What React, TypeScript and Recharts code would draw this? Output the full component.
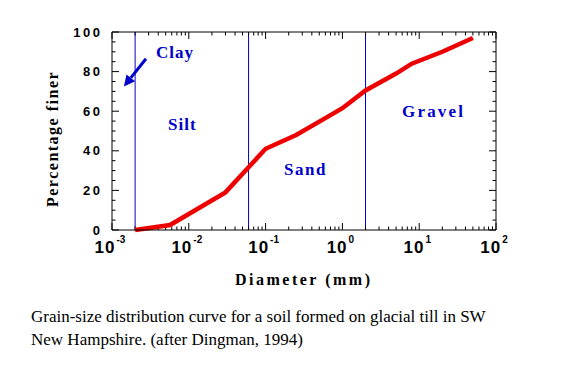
import { LineChart, Line, XAxis, YAxis, ReferenceLine, ReferenceDot } from "recharts";

// grain-size curve (diameter in mm, % finer)
const diameterMm = [0.002, 0.0057, 0.03, 0.1, 0.25, 0.6, 1, 2, 5, 8, 20, 50];
const percentFiner = [0, 2.5, 19, 41, 48, 56.5, 61.5, 70.5, 79, 84, 90, 97];

const xTicks = [0.001, 0.01, 0.1, 1, 10, 100];
const xTickExponents = ["-3", "-2", "-1", "0", "1", "2"];
const yTicks = [0, 20, 40, 60, 80, 100];

// clay/silt, silt/sand, sand/gravel boundaries (mm)
const classBoundaries = [0.002, 0.06, 2];
const classNames = ["Clay", "Silt", "Sand", "Gravel"];

const caption = [
  "Grain-size distribution curve for a soil formed on glacial till in SW",
  "New Hampshire. (after Dingman, 1994)",
];

// where the class names sit, in axis units
const classLabelAt = [
  { x: 0.00374, y: 86.9, spacing: 1 },
  { x: 0.00536, y: 50.5, spacing: 1 },
  { x: 0.174, y: 27.8, spacing: 1.5 },
  { x: 5.97, y: 57.1, spacing: 2.2 },
];
const arrowFrom = { x: 0.00277, y: 86.5 };
const arrowTo = { x: 0.00143, y: 72.5 };

const data = diameterMm.map((d, i) => ({ d, pct: percentFiner[i] }));

const BLUE = "#0000cc";
const SANS = "'Liberation Sans', Arial, sans-serif";
const SERIF = "'Liberation Serif', 'Times New Roman', serif";

// minor log ticks 2..9 per decade
const xMinor: number[] = [];
for (let e = -3; e < 2; e++) {
  for (let m = 2; m <= 9; m++) xMinor.push(m * Math.pow(10, e));
}
const yMinor: number[] = [];
for (let v = 5; v < 100; v += 5) if (v % 20 !== 0) yMinor.push(v);

const PX_PER_DECADE = 76.8;
const PX_PER_UNIT = 1.98;
const xFactor = (px: number) => Math.pow(10, px / PX_PER_DECADE);

function XTick(props: any) {
  const { x, y, index } = props;
  return (
    <text x={x - 2} y={y + 23} textAnchor="middle" fontFamily={SANS} fontWeight="bold" fontSize={17} fill="#000">
      <tspan letterSpacing={1}>10</tspan>
      <tspan dy={-10} dx={1} fontSize={10}>{xTickExponents[index]}</tspan>
    </text>
  );
}

function YTick(props: any) {
  const { x, y, payload } = props;
  return (
    <text x={x} y={y + 4.5} textAnchor="end" fontFamily={SANS} fontWeight="bold" fontSize={13} letterSpacing={2.5} fill="#000">
      {payload.value}
    </text>
  );
}

function Arrow(props: any) {
  const { x1, y1, x2, y2 } = props;
  const ang = Math.atan2(y2 - y1, x2 - x1);
  const len = 11;
  const w = 5.5;
  const bx = x2 - len * Math.cos(ang);
  const by = y2 - len * Math.sin(ang);
  const px = -Math.sin(ang) * w;
  const py = Math.cos(ang) * w;
  return (
    <g>
      <line x1={x1} y1={y1} x2={bx} y2={by} stroke={BLUE} strokeWidth={3} />
      <polygon points={`${x2},${y2} ${bx + px},${by + py} ${bx - px},${by - py}`} fill={BLUE} />
    </g>
  );
}

export default function App() {
  return (
    <div style={{ position: "absolute", left: 0, top: 0, width: 575, height: 383, background: "#fff" }}>
      <LineChart width={575} height={383} data={data} margin={{ top: 32, right: 79, bottom: 123, left: 72 }}>
        <XAxis
          dataKey="d"
          type="number"
          scale="log"
          domain={[0.001, 100]}
          ticks={xTicks}
          allowDataOverflow
          height={30}
          tickLine={false}
          tickSize={0}
          tickMargin={0}
          tick={<XTick />}
          axisLine={{ stroke: "#000" }}
          interval={0}
        />
        <YAxis
          type="number"
          domain={[0, 100]}
          ticks={yTicks}
          width={40}
          tickLine={false}
          tickSize={0}
          tickMargin={9.5}
          tick={<YTick />}
          axisLine={{ stroke: "#000" }}
          interval={0}
        />
        <ReferenceLine y={100} stroke="#000" />
        <ReferenceLine x={100} stroke="#000" />

        {classBoundaries.map((b) => (
          <ReferenceLine key={"b" + b} x={b} stroke={BLUE} strokeWidth={1} />
        ))}

        {xTicks.map((v) => (
          <ReferenceLine key={"xb" + v} segment={[{ x: v, y: 0 }, { x: v, y: 7 / PX_PER_UNIT }]} stroke="#000" />
        ))}
        {xTicks.map((v) => (
          <ReferenceLine key={"xt" + v} segment={[{ x: v, y: 100 }, { x: v, y: 100 - 7 / PX_PER_UNIT }]} stroke="#000" />
        ))}
        {xMinor.map((v) => (
          <ReferenceLine key={"xmb" + v} segment={[{ x: v, y: 0 }, { x: v, y: 3.5 / PX_PER_UNIT }]} stroke="#000" />
        ))}
        {xMinor.map((v) => (
          <ReferenceLine key={"xmt" + v} segment={[{ x: v, y: 100 }, { x: v, y: 100 - 3.5 / PX_PER_UNIT }]} stroke="#000" />
        ))}
        {yTicks.map((v) => (
          <ReferenceLine key={"yl" + v} segment={[{ x: 0.001, y: v }, { x: 0.001 * xFactor(7), y: v }]} stroke="#000" />
        ))}
        {yTicks.map((v) => (
          <ReferenceLine key={"yr" + v} segment={[{ x: 100 / xFactor(7), y: v }, { x: 100, y: v }]} stroke="#000" />
        ))}
        {yMinor.map((v) => (
          <ReferenceLine key={"yml" + v} segment={[{ x: 0.001, y: v }, { x: 0.001 * xFactor(3.5), y: v }]} stroke="#000" />
        ))}
        {yMinor.map((v) => (
          <ReferenceLine key={"ymr" + v} segment={[{ x: 100 / xFactor(3.5), y: v }, { x: 100, y: v }]} stroke="#000" />
        ))}

        <ReferenceLine segment={[arrowFrom, arrowTo]} shape={<Arrow />} />

        {classNames.map((name, i) => (
          <ReferenceDot
            key={name}
            x={classLabelAt[i].x}
            y={classLabelAt[i].y}
            shape={(p: any) => (
              <text
                x={p.cx}
                y={p.cy}
                fontFamily={SERIF}
                fontWeight="bold"
                fontSize={17}
                letterSpacing={classLabelAt[i].spacing}
                fill={BLUE}
              >
                {name}
              </text>
            )}
          />
        ))}

        <Line
          dataKey="pct"
          type="linear"
          stroke="#ee0000"
          strokeWidth={4.5}
          dot={false}
          isAnimationActive={false}
        />
      </LineChart>

      <svg width={575} height={383} style={{ position: "absolute", left: 0, top: 0, pointerEvents: "none" }}>
        <text x={235} y={285} fontFamily={SERIF} fontWeight="bold" fontSize={16} letterSpacing={2.5} fill="#000">
          Diameter (mm)
        </text>
        <text
          x={58}
          y={207}
          transform="rotate(-90, 58, 207)"
          fontFamily={SERIF}
          fontWeight="bold"
          fontSize={16}
          letterSpacing={1.5}
          fill="#000"
        >
          Percentage finer
        </text>
        {caption.map((line, i) => (
          <text key={i} x={31} y={322 + i * 23} fontFamily={SERIF} fontSize={17} fill="#000">
            {line}
          </text>
        ))}
      </svg>
    </div>
  );
}
